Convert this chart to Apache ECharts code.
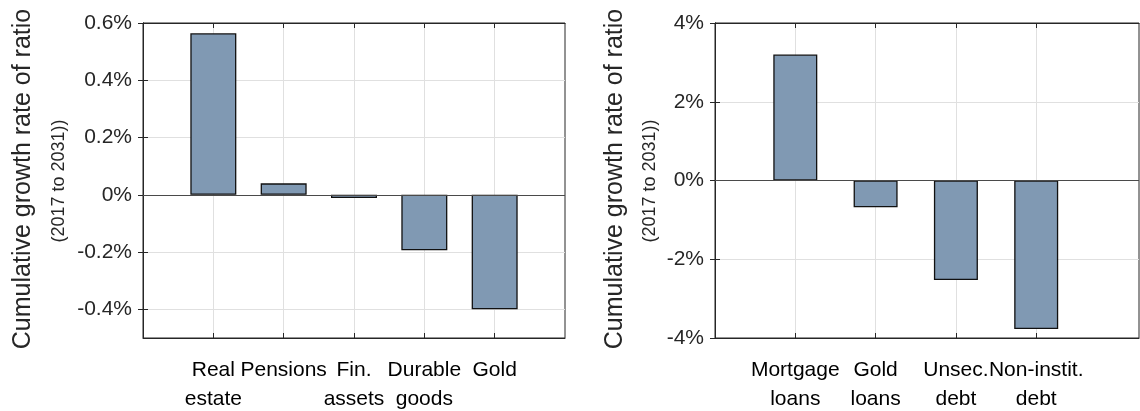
<!DOCTYPE html>
<html lang="en">
<head>
    <meta charset="UTF-8">
    <title>Cumulative growth rate of ratio</title>
    <script src="https://cdn.jsdelivr.net/npm/echarts@6/dist/echarts.min.js"></script>
    <style>
        html, body { margin: 0; padding: 0; background: #fff; }
    </style>
</head>
<body>
    <div id="main" style="width: 1140px;height:411px;"></div>
    <script type="text/javascript">
        // data
        var assetCats = ['Real\nestate', 'Pensions', 'Fin.\nassets', 'Durable\ngoods', 'Gold'];
        var assetGrowth = [0.564, 0.04, -0.011, -0.194, -0.40];
        var assetTicks = [-0.4, -0.2, 0, 0.2, 0.4, 0.6];

        var debtCats = ['Mortgage\nloans', 'Gold\nloans', 'Unsec.\ndebt', 'Non-instit.\ndebt'];
        var debtGrowth = [3.20, -0.68, -2.53, -3.77];
        var debtTicks = [-4, -2, 0, 2, 4];

        var FONT = '"Liberation Sans", Arial, sans-serif';
        var INK = '#262626';

        function positions(cats) {
            return cats.map(function (c, i) { return i + 1; });
        }

        function pct(v) {
            return (Math.round(v * 10) / 10) + '%';
        }

        // bottom + top x axes for one panel
        function xAxes(gridIndex, cats, xmax) {
            var ticks = positions(cats);
            var base = {
                type: 'value',
                gridIndex: gridIndex,
                min: 0,
                max: xmax,
                axisLine: { show: true, onZero: false, lineStyle: { color: INK, width: 1 } },
                axisTick: { show: true, inside: true, length: 5, customValues: ticks, lineStyle: { color: INK } }
            };
            var bottom = Object.assign({}, base, {
                position: 'bottom',
                axisLabel: {
                    // blank labels at the ends so the real ones are never treated as min/max
                    customValues: [0].concat(ticks, [xmax]),
                    formatter: function (v) { return cats[Math.round(v) - 1] || ''; },
                    hideOverlap: false,
                    color: '#000',
                    fontFamily: FONT,
                    fontSize: 21,
                    lineHeight: 29,
                    margin: 18
                },
                splitLine: { show: true, lineStyle: { color: '#e0e0e0', width: 1 } }
            });
            var top = Object.assign({}, base, {
                position: 'top',
                axisLabel: { show: false },
                splitLine: { show: false }
            });
            return [bottom, top];
        }

        // left + right y axes for one panel
        function yAxes(gridIndex, ticks, ymin, ymax) {
            var base = {
                type: 'value',
                gridIndex: gridIndex,
                min: ymin,
                max: ymax,
                axisLine: { show: true, lineStyle: { color: INK, width: 1 } },
                axisTick: { show: true, inside: true, length: 5, customValues: ticks, lineStyle: { color: INK } }
            };
            var left = Object.assign({}, base, {
                position: 'left',
                axisLabel: {
                    customValues: ticks,
                    formatter: pct,
                    showMinLabel: true,
                    showMaxLabel: true,
                    color: INK,
                    fontFamily: FONT,
                    fontSize: 21,
                    margin: 11
                },
                splitLine: { show: true, lineStyle: { color: '#e0e0e0', width: 1 } }
            });
            var right = Object.assign({}, base, {
                position: 'right',
                axisLabel: { show: false },
                splitLine: { show: false }
            });
            return [left, right];
        }

        function barSeries(xi, yi, values, width) {
            return {
                type: 'bar',
                xAxisIndex: xi,
                yAxisIndex: yi,
                barWidth: width,
                data: values.map(function (v, i) { return [i + 1, v]; }),
                itemStyle: { color: '#8099b3', borderColor: '#111', borderWidth: 1.3 },
                markLine: {
                    silent: true,
                    symbol: 'none',
                    label: { show: false },
                    lineStyle: { color: '#4a4a4a', type: 'solid', width: 1.2 },
                    data: [{ yAxis: 0 }]
                },
                animation: false
            };
        }

        function titleText(x, y, text, size) {
            return {
                type: 'text',
                x: x,
                y: y,
                rotation: Math.PI / 2,
                style: {
                    text: text,
                    fill: INK,
                    font: size + 'px ' + FONT,
                    textAlign: 'center',
                    textVerticalAlign: 'middle'
                }
            };
        }

        var myChart = echarts.init(document.getElementById('main'));

        var option = {
            animation: false,
            grid: [
                { left: 143, top: 23, width: 422, height: 315, show: true, borderColor: INK, borderWidth: 1, outerBoundsMode: 'none' },
                { left: 715, top: 23, width: 424, height: 315, show: true, borderColor: INK, borderWidth: 1, outerBoundsMode: 'none' }
            ],
            xAxis: xAxes(0, assetCats, 6).concat(xAxes(1, debtCats, 5.28)),
            yAxis: yAxes(0, assetTicks, -0.5, 0.6).concat(yAxes(1, debtTicks, -4, 4)),
            series: [
                barSeries(0, 0, assetGrowth, 46),
                barSeries(2, 2, debtGrowth, 44)
            ],
            graphic: [
                titleText(23, 179, 'Cumulative growth rate of ratio', 25),
                titleText(59, 181, '(2017 to 2031))', 18),
                titleText(615, 179, 'Cumulative growth rate of ratio', 25),
                titleText(650, 181, '(2017 to 2031))', 18)
            ]
        };

        myChart.setOption(option);
    </script>
</body>
</html>
